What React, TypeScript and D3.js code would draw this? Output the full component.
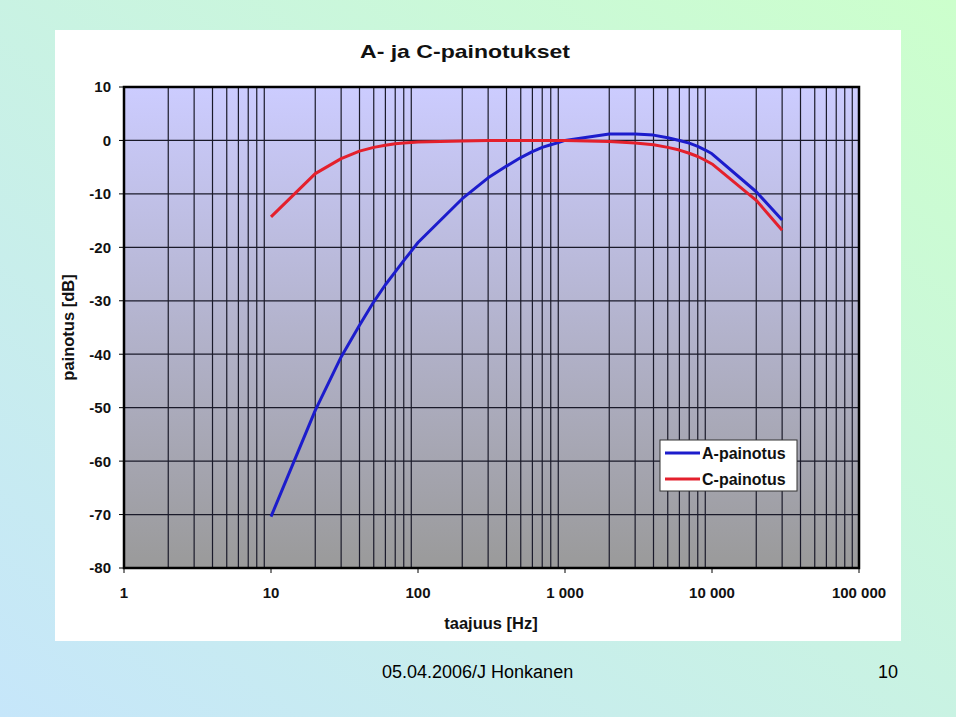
import * as d3 from "d3";

// frequencies (Hz) the curves are drawn through
const freqs = [
  10, 20, 30, 40, 50, 60, 70, 80, 90, 100,
  200, 300, 400, 500, 600, 700, 800, 900, 1000,
  2000, 3000, 4000, 5000, 6000, 7000, 8000, 9000, 10000,
  20000, 30000,
];

// A-weighting (dB)
const aWeight = [
  -70.4, -50.5, -40.5, -34.6, -30.2, -27.0, -24.6, -22.5, -20.7, -19.1,
  -10.9, -7.0, -4.8, -3.2, -2.1, -1.3, -0.8, -0.4, 0,
  1.2, 1.2, 1.0, 0.5, 0.0, -0.5, -1.1, -1.8, -2.5,
  -9.6, -14.9,
];

// C-weighting (dB)
const cWeight = [
  -14.3, -6.2, -3.4, -2.0, -1.3, -0.9, -0.6, -0.5, -0.4, -0.3,
  -0.1, 0, 0, 0, 0, 0, 0, 0, 0,
  -0.2, -0.5, -0.8, -1.3, -1.8, -2.4, -3.0, -3.7, -4.4,
  -11.2, -16.8,
];

const seriesNames = ["A-painotus", "C-painotus"];
const seriesColors = ["#1c1ccc", "#e4202c"];

const xTicks = [1, 10, 100, 1000, 10000, 100000];
const xTickLabels = ["1", "10", "100", "1 000", "10 000", "100 000"];
const yTicks = [10, 0, -10, -20, -30, -40, -50, -60, -70, -80];

const title = "A- ja C-painotukset";
const xTitle = "taajuus [Hz]";
const yTitle = "painotus [dB]";
const footer = "05.04.2006/J Honkanen";
const pageNo = "10";

export default function App() {
  const width = 960;
  const height = 720;
  const left = 124;
  const right = 859;
  const top = 87;
  const bottom = 568;
  const font = "'Liberation Sans', Arial, sans-serif";

  const x = d3.scaleLog().domain([1, 100000]).range([left, right]);
  const y = d3.scaleLinear().domain([-80, 10]).range([bottom, top]);

  // minor grid: 1..9 for every decade
  const gridX: number[] = [];
  for (let dec = 1; dec < 100000; dec *= 10) {
    for (let m = 2; m <= 9; m++) gridX.push(dec * m);
  }

  const line = d3
    .line<[number, number]>()
    .x((d) => x(d[0]))
    .y((d) => y(d[1]));

  const series = [aWeight, cWeight].map((vals) =>
    freqs.map((f, i) => [f, vals[i]] as [number, number])
  );

  return (
    <svg
      width={width}
      height={height}
      style={{ position: "absolute", left: 0, top: 0, background: "#fff" }}
    >
      <defs>
        <linearGradient id="slide" x1="0" y1="1" x2="1" y2="0">
          <stop offset="0%" stopColor="#c6e6fa" />
          <stop offset="100%" stopColor="#ccffcc" />
        </linearGradient>
        <linearGradient id="plotBg" x1="0" y1="0" x2="0" y2="1">
          <stop offset="0%" stopColor="#ccccff" />
          <stop offset="100%" stopColor="#9a9a9a" />
        </linearGradient>
      </defs>

      {/* slide background */}
      <rect x={0} y={0} width={956} height={717} fill="url(#slide)" />
      <rect x={55} y={30} width={846} height={611} fill="#ffffff" />

      {/* plot area */}
      <rect x={left} y={top} width={right - left} height={bottom - top} fill="url(#plotBg)" />

      {/* grid */}
      <g stroke="#1a1a2a" strokeWidth={1.2}>
        {gridX.map((f) => (
          <line key={"gx" + f} x1={x(f)} x2={x(f)} y1={top} y2={bottom} />
        ))}
        {yTicks.map((v) => (
          <line key={"gy" + v} x1={left} x2={right} y1={y(v)} y2={y(v)} />
        ))}
      </g>

      {/* series */}
      {series.map((pts, i) => (
        <path
          key={seriesNames[i]}
          d={line(pts) || ""}
          fill="none"
          stroke={seriesColors[i]}
          strokeWidth={3}
          strokeLinejoin="round"
        />
      ))}

      {/* frame */}
      <rect
        x={left}
        y={top}
        width={right - left}
        height={bottom - top}
        fill="none"
        stroke="#000"
        strokeWidth={2.5}
      />

      {/* axes */}
      <g fontFamily={font} fontWeight="bold" fontSize={15} fill="#111">
        {yTicks.map((v) => (
          <g key={"yt" + v}>
            <line x1={left - 5} x2={left} y1={y(v)} y2={y(v)} stroke="#000" strokeWidth={1} />
            <text x={left - 13} y={y(v)} dy="0.36em" textAnchor="end">
              {v}
            </text>
          </g>
        ))}
        {xTicks.map((f, i) => (
          <g key={"xt" + f}>
            <line x1={x(f)} x2={x(f)} y1={bottom} y2={bottom + 5} stroke="#000" strokeWidth={1} />
            <text x={x(f)} y={bottom + 30} textAnchor="middle">
              {xTickLabels[i]}
            </text>
          </g>
        ))}
      </g>

      {/* titles */}
      <text
        x={360}
        y={58}
        textLength={210}
        lengthAdjust="spacingAndGlyphs"
        fontFamily={font}
        fontWeight="bold"
        fontSize={19}
        fill="#111"
      >
        {title}
      </text>
      <text
        x={491}
        y={629}
        textAnchor="middle"
        fontFamily={font}
        fontWeight="bold"
        fontSize={16.5}
        fill="#111"
      >
        {xTitle}
      </text>
      <text
        transform={`translate(74, ${(top + bottom) / 2}) rotate(-90)`}
        textAnchor="middle"
        fontFamily={font}
        fontWeight="bold"
        fontSize={16.5}
        fill="#111"
      >
        {yTitle}
      </text>

      {/* legend */}
      <g fontFamily={font} fontWeight="bold" fontSize={16} fill="#111">
        <rect x={660} y={440} width={137} height={51} fill="#fff" stroke="#333" strokeWidth={1} />
        {seriesNames.map((name, i) => (
          <g key={"lg" + name} transform={`translate(0, ${453 + i * 26})`}>
            <line x1={665} x2={700} y1={0} y2={0} stroke={seriesColors[i]} strokeWidth={3} />
            <text x={702} y={0} dy="0.36em">
              {name}
            </text>
          </g>
        ))}
      </g>

      {/* footer */}
      <text x={382} y={678} fontFamily={font} fontSize={18} fill="#000">
        {footer}
      </text>
      <text x={898} y={678} textAnchor="end" fontFamily={font} fontSize={18} fill="#000">
        {pageNo}
      </text>
    </svg>
  );
}
